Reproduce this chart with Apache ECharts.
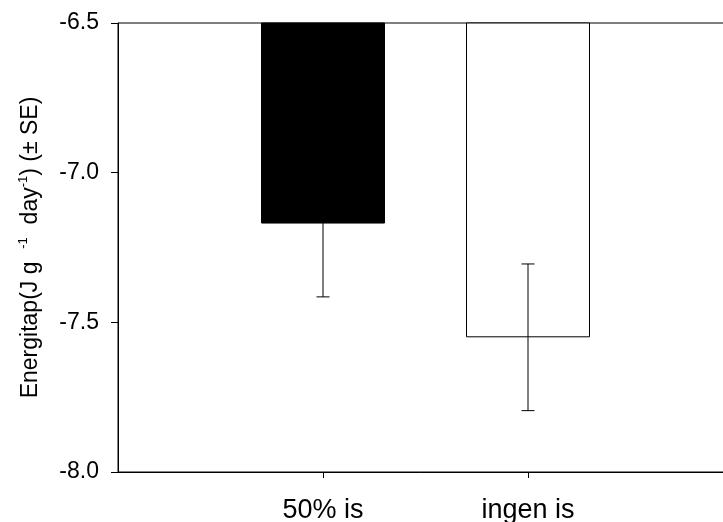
<!DOCTYPE html>
<html>
<head>
<meta charset="utf-8">
<script src="https://cdn.jsdelivr.net/npm/echarts@6/dist/echarts.min.js"></script>
<style>
html,body{margin:0;padding:0;background:#fff;}
#chart{width:723px;height:522px;}
</style>
</head>
<body>
<div id="chart"></div>
<script>
// Data
const categories = ['50% is', 'ingen is'];
const positions = [1, 2];
const means = [-7.17, -7.55];
const se = [0.245, 0.245];
const yTicks = [-8.0, -7.5, -7.0, -6.5];
const barColors = ['#000000', '#ffffff'];

const FONT = "'Liberation Sans', Arial, Helvetica, sans-serif";

const barData = means.map((v, i) => ({
  value: [positions[i], v],
  itemStyle: { color: barColors[i], borderColor: '#000', borderWidth: 1 }
}));
const errData = means.map((v, i) => [positions[i], v - se[i], v + se[i]]);

const chart = echarts.init(document.getElementById('chart'), null, { renderer: 'canvas' });
chart.setOption({
  animation: false,
  backgroundColor: '#fff',
  grid: {
    left: 118, top: 23, right: -10, bottom: 50,
    show: true, borderColor: '#000', borderWidth: 1,
    containLabel: false, outerBoundsMode: 'none'
  },
  xAxis: {
    type: 'value', min: 0, max: 3, interval: 1,
    splitLine: { show: false },
    axisLine: { show: true, lineStyle: { color: '#000', width: 1 } },
    axisTick: { show: true, length: 6, lineStyle: { color: '#000' }, customValues: positions },
    axisLabel: {
      customValues: positions,
      formatter: v => { const i = positions.indexOf(v); return i >= 0 ? categories[i] : ''; },
      color: '#000', fontFamily: FONT, fontSize: 27, margin: 25
    }
  },
  yAxis: {
    type: 'value', min: yTicks[0], max: yTicks[yTicks.length - 1], interval: 0.5,
    splitLine: { show: false },
    axisLine: { show: true, lineStyle: { color: '#000', width: 1 } },
    axisTick: { show: true, length: 7, lineStyle: { color: '#000' } },
    axisLabel: { formatter: v => v.toFixed(1), color: '#000', fontFamily: FONT, fontSize: 23, margin: 19 },
    name: 'Energitap(J g  {s|-1}  day{s|-1}) (± SE)',
    nameLocation: 'middle',
    nameGap: 73,
    nameTextStyle: {
      color: '#000', fontFamily: FONT, fontSize: 23, lineHeight: 28,
      rich: { s: { fontSize: 13, fontFamily: FONT, color: '#000', verticalAlign: 'top', lineHeight: 28 } }
    }
  },
  series: [
    {
      type: 'bar',
      data: barData,
      barWidth: 124,
      clip: true
    },
    {
      type: 'custom',
      data: errData,
      clip: true,
      z: 10,
      renderItem: function (params, api) {
        const x = api.value(0);
        const lo = api.coord([x, api.value(1)]);
        const hi = api.coord([x, api.value(2)]);
        const cap = 6.5;
        const style = { stroke: '#000', lineWidth: 1 };
        return {
          type: 'group',
          children: [
            { type: 'line', shape: { x1: lo[0], y1: lo[1], x2: hi[0], y2: hi[1] }, style },
            { type: 'line', shape: { x1: lo[0] - cap, y1: lo[1], x2: lo[0] + cap, y2: lo[1] }, style },
            { type: 'line', shape: { x1: hi[0] - cap, y1: hi[1], x2: hi[0] + cap, y2: hi[1] }, style }
          ]
        };
      }
    }
  ]
});
</script>
</body>
</html>
